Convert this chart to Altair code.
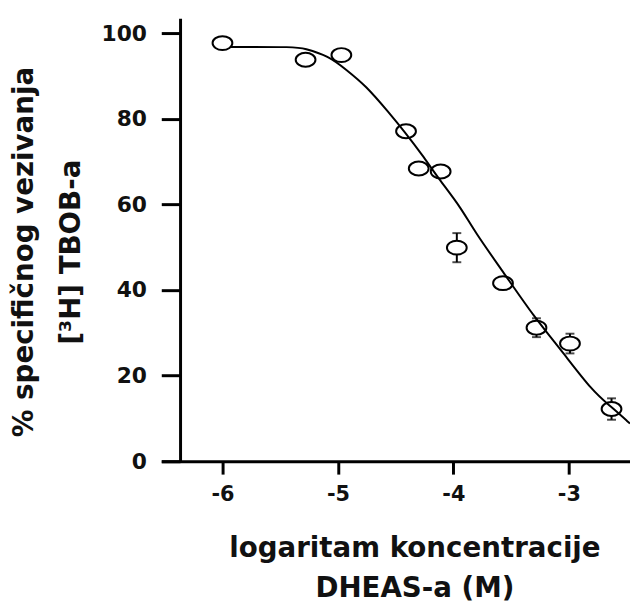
import altair as alt
import pandas as pd

# measured points (log concentration, % specific binding)
x_log = [-6.00, -5.28, -4.97, -4.41, -4.30, -4.11, -3.97, -3.57, -3.28, -2.99, -2.63]
y_pct = [97.7, 93.8, 94.9, 77.1, 68.4, 67.7, 49.9, 41.6, 31.2, 27.5, 12.2]

# error bars visible in the picture (SEM)
err_x = [-3.97, -3.28, -2.99, -2.63]
err_y = [49.9, 31.2, 27.5, 12.2]
err_e = [3.4, 2.2, 2.3, 2.5]

# fitted curve
curve_x = [-5.93, -5.36, -5.30, -5.08, -4.93, -4.76, -4.56, -4.42, -4.27, -4.13,
           -3.93, -3.82, -3.56, -3.30, -3.07, -2.79, -2.64, -2.47]
curve_y = [96.8, 96.8, 96.5, 94.7, 91.5, 87.8, 81.5, 76.9, 71.6, 66.1,
           59.1, 53.8, 43.9, 33.7, 26.1, 16.2, 12.9, 8.8]

x_ticks = [-6, -5, -4, -3]
y_ticks = [0, 20, 40, 60, 80, 100]

pts = pd.DataFrame({"x": x_log, "y": y_pct})
errs = pd.DataFrame({"x": err_x, "lo": [a - b for a, b in zip(err_y, err_e)],
                     "hi": [a + b for a, b in zip(err_y, err_e)]})
curve = pd.DataFrame({"x": curve_x, "y": curve_y})

FONT = "DejaVu Sans"
INK = "#111111"

xscale = alt.Scale(domain=[-6.53, -2.47], nice=False, zero=False)
yscale = alt.Scale(domain=[0, 103.5], nice=False, zero=True)

xaxis = alt.Axis(
    values=x_ticks, grid=False, labelExpr="toString(datum.value)",
    domainColor="black", domainWidth=3, tickColor="black", tickWidth=3, tickSize=13,
    labelFont=FONT, labelFontWeight="bold", labelFontSize=21, labelColor=INK, labelPadding=10,
    title=["logaritam koncentracije", "DHEAS-a (M)"],
    titleFont=FONT, titleFontWeight="bold", titleFontSize=28, titleColor=INK,
    titleX=256, titleY=96, titleAlign="center", titleBaseline="alphabetic", titleLineHeight=41,
)
yaxis = alt.Axis(
    values=y_ticks, grid=False, offset=-19,
    domainColor="black", domainWidth=3, tickColor="black", tickWidth=3, tickSize=19,
    labelFont=FONT, labelFontWeight="bold", labelFontSize=22, labelColor=INK, labelPadding=15,
    title=["% specifičnog vezivanja", "[³H] TBOB-a"],
    titleFont=FONT, titleFontWeight="bold", titleFontSize=28, titleColor=INK,
    titleX=-149, titleY=236, titleAngle=270, titleAlign="center", titleBaseline="alphabetic",
    titleLineHeight=47,
)

base_x = alt.X("x:Q", scale=xscale, axis=xaxis)
base_y = alt.Y("y:Q", scale=yscale, axis=yaxis)

rules = alt.Chart(errs).mark_rule(color="black", strokeWidth=2).encode(
    x=alt.X("x:Q", scale=xscale, axis=xaxis),
    y=alt.Y("lo:Q", scale=yscale, axis=yaxis),
    y2="hi:Q",
)
caps_lo = alt.Chart(errs).mark_tick(color="black", orient="horizontal", size=9, thickness=2).encode(
    x=alt.X("x:Q", scale=xscale), y=alt.Y("lo:Q", scale=yscale))
caps_hi = alt.Chart(errs).mark_tick(color="black", orient="horizontal", size=9, thickness=2).encode(
    x=alt.X("x:Q", scale=xscale), y=alt.Y("hi:Q", scale=yscale))

ellipse = "M -1,0 A 1,0.7 0 1,1 1,0 A 1,0.7 0 1,1 -1,0 Z"
points = alt.Chart(pts).mark_point(
    shape=ellipse, size=400, filled=False, fill="white", fillOpacity=1,
    stroke="black", strokeWidth=2, opacity=1,
).encode(x=base_x, y=base_y)

line = alt.Chart(curve).mark_line(color="black", strokeWidth=2, interpolate="basis", clip=True).encode(
    x=base_x, y=base_y)

chart = alt.layer(rules, caps_lo, caps_hi, points, line).properties(
    width=474, height=448,
    background="white",
    autosize=alt.AutoSizeParams(type="none"),
    padding={"left": 155, "top": 7, "right": 0, "bottom": 141},
).configure_view(stroke=None)

chart.save("out.html", embed_options={"renderer": "svg", "actions": False})
